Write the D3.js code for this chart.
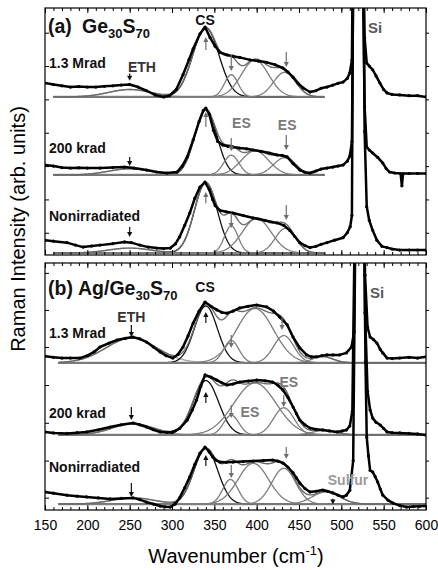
<!DOCTYPE html>
<html>
<head>
<meta charset="utf-8">
<script src="https://cdn.jsdelivr.net/npm/d3@7"></script>
<style>
  body { margin: 0; background: #fff; }
  text { font-family: "Liberation Sans", Arial, sans-serif; }
</style>
</head>
<body>
<script>
// wavenumber ticks (cm-1)
const majorTicks = [150, 200, 250, 300, 350, 400, 450, 500, 550, 600];
const minorTicks = d3.range(150, 601, 10);
const yTicksA = [9, 22.5, 36, 49.5, 63, 76.5, 90];
const yTicksB = [5, 20, 35.3, 50.6, 66, 81, 96];

// measured spectra [wavenumber, intensity (arb.)], panel (a) Ge30S70
const aMrad = [[150,69.6],[160,69],[170,68.5],[180,68],[190,68.2],[200,68],[210,68],[220,68.3],[230,68.5],[240,68.8],[250,69],[260,68],[270,66.5],[280,64.8],[290,64],[297,64.5],[305,67],[313,73],[320,79],[325,83.5],[333,89.5],[339,92.3],[345,88],[351,84.5],[357,82],[365,81],[372,80.5],[380,80],[392,79],[402,78.5],[412,78],[422,77],[431,75.7],[437,74],[443,72],[449,69.5],[455,67.6],[463,66],[470,66.5],[476,67.5],[483,68],[490,68.8],[496,69.5],[502,70],[507,71.5],[510,73.7],[512.5,79],[515,180],[518,400],[521,500],[524,250],[525.5,130],[527.5,88],[530,77.7],[533,76.5],[537,75],[541,72.5],[545.6,69.6],[550,67],[554,65.6],[560,65],[569,64.8],[580,64.5],[590,64.5],[600,64]];
const aKrad = [[150,36.4],[160,36],[170,35.4],[180,35.2],[190,35.3],[200,35.2],[215,35.2],[230,35.4],[244,35.6],[255,35.2],[270,34.4],[282,33.6],[294,33.2],[306,33.6],[312,36],[318,39.7],[325,46.6],[332,54],[337,58.5],[340,59.5],[344,57],[349,50.5],[354,46],[360,44.5],[366,44],[372,43.7],[380,43.3],[388,43],[396,42.5],[405,42],[415,41.3],[424,40.5],[430,40.3],[436,39.7],[443,37],[451,34.4],[457,33.5],[463,33.2],[470,34],[476,34.8],[483,35.2],[490,35.6],[496,36],[502,36.4],[507,38],[510,40],[512.5,46],[515,150],[518,380],[521,450],[524,240],[525.5,110],[527.5,60],[530,43.7],[533,42.5],[537,41.3],[543,39.5],[549,37.2],[553,35],[557,33.6],[563,33.2],[570,33],[571.5,28],[573,33],[580,33],[590,33],[600,33]];
const aNonirr = [[150,6],[160,5.6],[176,5],[186,4],[195,3.2],[205,3.6],[215,4],[230,4.6],[244,5.3],[252,5],[262,4],[272,3.2],[282,2.8],[290,2.6],[298,2.8],[304,4.5],[309,7.3],[315,12],[321,17],[327,23],[333,27.5],[339,29.5],[344,26.5],[348,22.5],[351,20],[357,18],[364,17.5],[372,17],[384,16],[396,15],[410,14],[424,13],[432,12],[439,10],[445,7.5],[451,5],[457,3.8],[463,3],[470,3.5],[476,4.3],[483,5],[492,6],[502,7],[507,9],[510.5,11.5],[512.5,16],[515,200],[518,450],[521,500],[524,260],[525.5,150],[527.5,50],[530,19.5],[533,14],[537,10],[542,6],[548,3.5],[554,3],[560,2.4],[569,2],[580,2],[590,2],[600,2]];

// panel (b) Ag/Ge30S70
const bMrad = [[150,62.3],[160,61.8],[170,61.5],[180,61.5],[191,61.5],[200,62.5],[208,64],[215,66],[225,67.5],[235,68.8],[245,69.5],[254,70],[262,69.3],[270,68],[278,66],[286,64],[293,62.5],[301,61.5],[307,63],[313,66],[319,70.5],[325,75.7],[332,80.5],[339,84.2],[346,82.5],[353,81],[359,80],[365,79.7],[372,80.5],[380,81.8],[390,82.5],[400,83],[412,82.2],[420,80.5],[427.5,78],[436,75],[443,70],[451,65.6],[459,62.8],[465,62],[471,62],[477,62.5],[483,62.8],[490,62.8],[498,62.8],[506,63.6],[512,66],[515,72],[517,140],[520,400],[523,400],[526,160],[528,95],[531,74],[534,70],[538,69],[542,67.6],[546,65],[549,63.6],[554,61.5],[560,61.3],[569,61.5],[580,61.8],[590,61.5],[600,62]];
const bKrad = [[150,31.6],[160,31.2],[176,31],[188,31.3],[199,31.6],[213,32.5],[227,33.6],[240,34.5],[254,35.2],[262,34.5],[270,33.6],[278,32.5],[286,31.6],[294,31.4],[301,31.6],[309,33],[318,36.4],[324,40.5],[329,44.5],[334,50],[339,54.7],[346,53.8],[353,52.6],[359,51.5],[365,50.6],[372,51],[380,51.8],[390,52.2],[400,52.6],[410,52.3],[419,51.8],[425,50.5],[431,48.6],[437,45.5],[443,41.7],[447,39],[451,36.4],[457,34.5],[463,33.2],[470,32.7],[478,32.4],[486,32],[495,31.6],[501,32],[506,32.4],[510,34],[513,40],[516,120],[519,380],[522,420],[525,200],[528,80],[531,48],[534,40.5],[537,37.2],[541,35.5],[546,34.4],[550,33],[554,31.6],[560,31.3],[569,31.2],[580,31],[590,30.8],[600,30.4]];
const bNonirr = [[150,7.3],[160,6.8],[176,6],[188,5.6],[199,5.3],[213,4.9],[227,4.5],[240,4.7],[254,4.9],[262,4.2],[270,3.2],[278,2.4],[286,1.6],[292,1.3],[298,1.2],[304,2.5],[309,4.9],[315,9],[321,13.4],[327,18.5],[333,23],[339,25.5],[344,23.5],[348,21.5],[352,20.2],[357,19.4],[364,19.3],[372,19.4],[384,19.6],[396,19.8],[408,20],[419,20.2],[425,19.8],[431,19],[437,17.3],[443,15],[447,13],[451,10.9],[457,8.7],[463,7.3],[470,7.6],[478,8.1],[484,7.6],[490,6.9],[496,6],[502,5.3],[506,6],[510,8],[514,20],[517,130],[520,400],[523,400],[526,150],[528.5,60],[530,29.5],[532,22],[534,16],[537,15.4],[540,13.5],[543,11.3],[546,8.5],[549,6],[555,4],[561,2.8],[569,1.8],[577,1.2],[585,1.4],[592,1.5],[600,1.6]];

// fitted baselines and Gaussian bands [centre, height, width]: ETH, CS, ES..., (sulfur)
const aBaselines = [64, 32.4, 0.8];
const aMradPeaks = [[250,3,25],[340,28,15.5],[370,9,8],[398,15,16],[433,10,13]];
const aKradPeaks = [[250,2.5,25],[340,26.5,13],[370,8,9],[398,9.8,16],[433,7,13]];
const aNonirrPeaks = [[250,2,25],[340,28.5,13.5],[370,11,8],[400,14,17],[434,10,12]];
const bBaselines = [59.6, 30.4, 2.4];
const bMradPeaks = [[252,10,30],[340,23,13.5],[370,9,9],[398,22,22],[432,11,12],[478,2.5,12]];
const bKradPeaks = [[254,4.5,25],[340,22,15],[370,8,9],[398,21,25],[432,11,12],[480,1.8,14]];
const bNonirrPeaks = [[254,2.5,25],[340,22.5,14],[369,10,9],[396,16.5,18],[432,14.5,14],[482,5,16]];

const gauss = (p, w) => p[1] * Math.exp(-((w - p[0]) ** 2) / (2 * p[2] * p[2]));

window.onload = () => {
    const width = 438;
    const height = 570;
    const left = 45, right = 426;

    const svg = d3.select('body')
                  .append('svg')
                  .attr('width', width)
                  .attr('height', height);

    const x = d3.scaleLinear().domain([150, 600]).range([left, right]);

    const panels = [
        { id: 'a', top: 8, bottom: 255, fitFrom: 160, fitTo: 480, yTicks: yTicksA,
          spectra: [aMrad, aKrad, aNonirr], bases: aBaselines,
          peaks: [aMradPeaks, aKradPeaks, aNonirrPeaks] },
        { id: 'b', top: 263, bottom: 510, fitFrom: 166, fitTo: 600, yTicks: yTicksB,
          spectra: [bMrad, bKrad, bNonirr], bases: bBaselines,
          peaks: [bMradPeaks, bKradPeaks, bNonirrPeaks] }
    ];

    panels.forEach(p => {
        p.y = d3.scaleLinear().domain([0, 100]).range([p.bottom, p.top]);
        drawPanel(svg, p, x);
    });

    annotate(svg, x, panels[0].y, panels[1].y);

    // axis titles
    svg.append('text')
       .attr('transform', 'translate(25,229) rotate(-90)')
       .attr('text-anchor', 'middle')
       .style('font-size', '20px')
       .text('Raman Intensity (arb. units)');

    const xt = svg.append('text')
       .attr('x', 236).attr('y', 563)
       .attr('text-anchor', 'middle')
       .style('font-size', '20px');
    xt.append('tspan').text('Wavenumber (cm');
    xt.append('tspan').attr('dy', -8).style('font-size', '13px').text('-1');
    xt.append('tspan').attr('dy', 8).text(')');
};

const drawPanel = (svg, p, x) => {
    const y = p.y;
    const g = svg.append('g').attr('id', 'panel-' + p.id);

    svg.append('clipPath').attr('id', 'clip-' + p.id)
       .append('rect')
       .attr('x', x.range()[0]).attr('y', p.top)
       .attr('width', x.range()[1] - x.range()[0])
       .attr('height', p.bottom - p.top);

    const body = g.append('g').attr('clip-path', `url(#clip-${p.id})`);
    const line = d3.line().x(d => x(d[0])).y(d => y(d[1]));
    const grid = d3.range(p.fitFrom, p.fitTo + 0.5, 1);

    p.spectra.forEach((spec, i) => {
        const base = p.bases[i];
        const peaks = p.peaks[i];

        // baseline
        body.append('path')
            .attr('d', line([[p.fitFrom, base], [p.fitTo, base]]))
            .style('fill', 'none')
            .style('stroke', '#8a8a8a')
            .style('stroke-width', '2.2px');

        // fitted bands
        peaks.forEach((pk, k) => {
            const pts = grid.map(w => [w, base + gauss(pk, w)]);
            body.append('path')
                .attr('d', line(pts))
                .style('fill', 'none')
                .style('stroke', k === 1 ? '#111' : (k === 0 ? '#a5a5a5' : '#7d7d7d'))
                .style('stroke-width', '1.3px');
        });

        // total fit
        const total = grid.map(w => [w, base + d3.sum(peaks, pk => gauss(pk, w))]);
        body.append('path')
            .attr('d', line(total))
            .style('fill', 'none')
            .style('stroke', '#6a6a6a')
            .style('stroke-width', '1.4px');

        // measured data
        body.append('path')
            .attr('d', line(spec))
            .style('fill', 'none')
            .style('stroke', '#000')
            .style('stroke-width', '2.5px')
            .style('stroke-linejoin', 'round');

        body.selectAll(null)
            .data(spec)
            .enter()
            .append('circle')
            .attr('cx', d => x(d[0]))
            .attr('cy', d => y(d[1]))
            .attr('r', 1.6)
            .style('fill', '#000');
    });

    // frame
    g.append('rect')
     .attr('x', x.range()[0]).attr('y', p.top)
     .attr('width', x.range()[1] - x.range()[0])
     .attr('height', p.bottom - p.top)
     .style('fill', 'none')
     .style('stroke', '#000')
     .style('stroke-width', '1.2px');

    const isLast = p.id === 'b';
    const axes = [
        [d3.axisBottom(x).tickValues(majorTicks).tickSize(-5), `translate(0,${p.bottom})`, isLast],
        [d3.axisBottom(x).tickValues(minorTicks).tickSize(-3), `translate(0,${p.bottom})`, false],
        [d3.axisTop(x).tickValues(majorTicks).tickSize(-5), `translate(0,${p.top})`, false],
        [d3.axisTop(x).tickValues(minorTicks).tickSize(-3), `translate(0,${p.top})`, false],
        [d3.axisLeft(y).tickValues(p.yTicks).tickSize(-4), `translate(${x.range()[0]},0)`, false],
        [d3.axisRight(y).tickValues(p.yTicks).tickSize(3), `translate(${x.range()[1]},0)`, false]
    ];
    axes.forEach(([ax, tr, labels]) => {
        if (labels) ax.tickPadding(10).tickFormat(d3.format('d'));
        else ax.tickFormat('');
        const a = g.append('g').attr('transform', tr).call(ax);
        a.select('.domain').remove();
        a.selectAll('line').style('stroke', '#000');
        a.selectAll('text')
         .style('font-size', '14px')
         .style('font-family', '"Liberation Sans", Arial, sans-serif')
         .style('fill', '#000');
    });
};

const drawArrow = (svg, x, y, wn, from, to, color) => {
    const px = x(wn);
    const y0 = y(from), y1 = y(to);
    const dir = y1 > y0 ? 1 : -1;
    svg.append('line')
       .attr('x1', px).attr('x2', px)
       .attr('y1', y0).attr('y2', y1 - dir * 3)
       .style('stroke', color)
       .style('stroke-width', '1.2px');
    svg.append('path')
       .attr('d', `M ${px - 2.6} ${y1 - dir * 5} L ${px + 2.6} ${y1 - dir * 5} L ${px} ${y1} Z`)
       .style('fill', color);
};

const label = (svg, tx, ty, str, opts = {}) => {
    return svg.append('text')
       .attr('x', tx).attr('y', ty)
       .attr('text-anchor', opts.anchor || 'start')
       .style('font-size', (opts.size || 14) + 'px')
       .style('font-weight', 'bold')
       .style('fill', opts.color || '#111')
       .text(str);
};

const formula = (svg, tx, ty, prefix) => {
    const t = svg.append('text')
       .attr('x', tx).attr('y', ty)
       .style('font-size', '19.5px')
       .style('font-weight', 'bold')
       .style('fill', '#111');
    t.append('tspan').text(prefix);
    t.append('tspan').attr('dy', 5).style('font-size', '13px').text('30');
    t.append('tspan').attr('dy', -5).text('S');
    t.append('tspan').attr('dy', 5).style('font-size', '13px').text('70');
};

const annotate = (svg, x, ya, yb) => {
    const gray = '#6e6e6e';
    const black = '#111';
    const esGray = '#7a7a7a';

    // panel (a)
    label(svg, 48, 33, '(a)', { size: 19.5 });
    formula(svg, 82, 33, 'Ge');
    label(svg, x(339), 25, 'CS', { anchor: 'middle' });
    label(svg, 368, 33, 'Si', { size: 15, color: '#5a5a5a' });
    label(svg, 49, 68, '1.3 Mrad');
    label(svg, x(248), 72, 'ETH', { color: '#333' });
    label(svg, 49, 153, '200 krad');
    label(svg, x(371), 128, 'ES', { color: esGray });
    label(svg, x(425), 130, 'ES', { color: esGray });
    label(svg, 49, 221, 'Nonirradiated');

    [[250, 73.5, 70.5, black], [340, 83, 88.3, gray], [370, 81, 74.5, gray], [435, 82.2, 76.1, gray],
     [250, 39.7, 36, black], [340, 51.8, 57.9, gray], [370, 47.4, 42, gray], [435, 48.6, 42.5, gray],
     [250, 11.3, 7.3, black], [340, 21, 25.5, gray], [370, 17, 10.9, gray], [435, 20.2, 14.2, gray]]
        .forEach(a => drawArrow(svg, x, ya, a[0], a[1], a[2], a[3]));

    // panel (b)
    label(svg, 48, 295, '(b)', { size: 19.5 });
    formula(svg, 78, 295, 'Ag/Ge');
    label(svg, x(339), 292, 'CS', { anchor: 'middle' });
    label(svg, 370, 298, 'Si', { size: 15, color: '#5a5a5a' });
    label(svg, 49, 338, '1.3 Mrad');
    label(svg, x(252), 322, 'ETH', { anchor: 'middle', color: '#333' });
    label(svg, 49, 418, '200 krad');
    label(svg, x(381), 417, 'ES', { color: esGray });
    label(svg, x(427), 387, 'ES', { color: esGray });
    label(svg, 49, 472, 'Nonirradiated');
    label(svg, x(484), 485, 'Sulfur', { color: '#9a9a9a' });

    [[252, 74.9, 70, black], [340, 75.7, 80.2, black], [370, 70.8, 65.6, gray], [430, 78.1, 72.9, gray],
     [252, 41.7, 36.4, black], [340, 43.3, 47.8, black], [370, 42.5, 37.2, gray], [432, 46.6, 41.7, gray],
     [252, 10.9, 5.3, black], [340, 17.8, 22.3, black], [370, 18.2, 13, gray], [435, 25.5, 20.6, gray],
     [490, 4.6, 2.2, black]]
        .forEach(a => drawArrow(svg, x, yb, a[0], a[1], a[2], a[3]));
};
</script>
</body>
</html>
